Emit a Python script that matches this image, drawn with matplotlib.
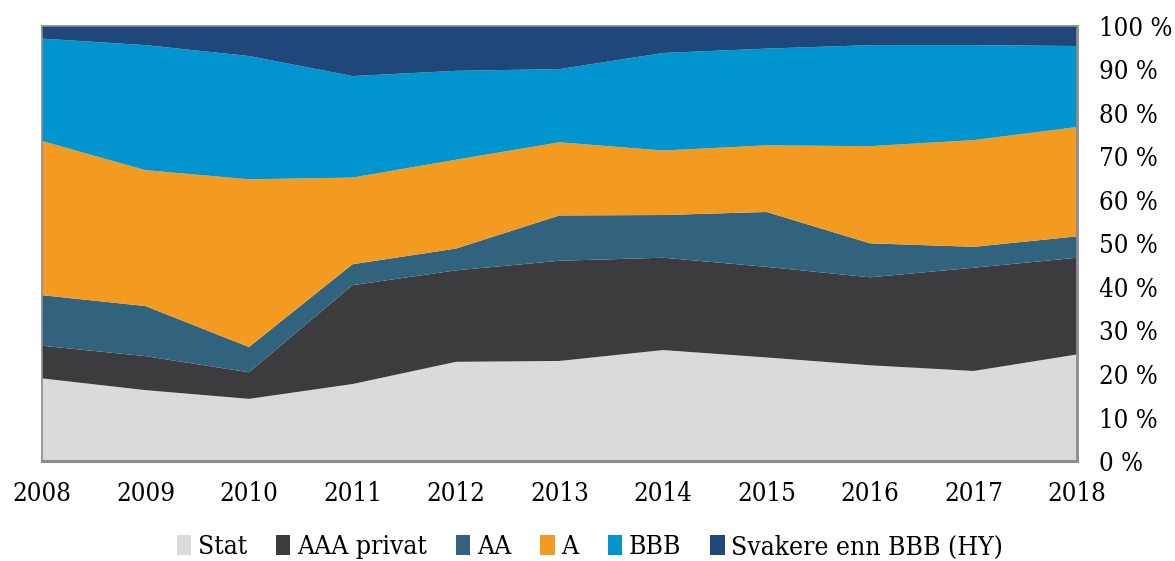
import numpy as np
import matplotlib.pyplot as plt
from matplotlib.patches import Patch

plt.rcParams['font.family'] = ['DejaVu Serif']
plt.rcParams['font.stretch'] = 'condensed'

years = [2008, 2009, 2010, 2011, 2012, 2013, 2014, 2015, 2016, 2017, 2018]

# share of portfolio per rating class, in percent
stat = [19.0, 16.3, 14.3, 17.7, 22.8, 23.0, 25.5, 23.8, 22.0, 20.7, 24.5]
aaa_privat = [7.5, 7.8, 6.1, 22.7, 21.0, 23.0, 21.2, 20.8, 20.2, 23.7, 22.2]
aa = [11.6, 11.5, 5.8, 4.8, 5.0, 10.4, 9.8, 12.6, 7.8, 4.8, 4.9]
a = [35.4, 31.2, 38.5, 19.9, 20.4, 16.8, 14.8, 15.3, 22.3, 24.5, 25.1]
bbb = [23.5, 28.7, 28.3, 23.3, 20.4, 16.8, 22.4, 22.2, 23.2, 21.8, 18.6]
hy = [3.0, 4.5, 7.0, 11.6, 10.4, 10.0, 6.3, 5.3, 4.5, 4.5, 4.7]

labels = ['Stat', 'AAA privat', 'AA', 'A', 'BBB', 'Svakere enn BBB (HY)']
colors = ['#d9dadc', '#3c3c3e', '#31637e', '#f39a21', '#0095ce', '#1f477a']

fig = plt.figure(figsize=(11.75, 5.61), dpi=100)
ax = fig.add_axes([0.0357, 0.178, 0.881, 0.7765])

ax.stackplot(years, stat, aaa_privat, aa, a, bbb, hy, colors=colors,
             labels=labels, linewidth=0)

ax.set_xlim(years[0], years[-1])
ax.set_ylim(0, 100)
ax.set_xticks(years)
ax.set_xticklabels([str(y) for y in years])
ax.set_yticks(np.arange(0, 101, 10))
ax.set_yticklabels([f'{v} %' for v in range(0, 101, 10)])
ax.yaxis.tick_right()
ax.tick_params(axis='both', length=0, labelsize=18.5, colors='black')
ax.tick_params(axis='x', pad=14)
ax.tick_params(axis='y', pad=16)

for side, sp in ax.spines.items():
    sp.set_color('#8c8c8c')
    sp.set_linewidth(1.2)
ax.spines['bottom'].set_linewidth(2.2)
ax.spines['right'].set_linewidth(2.0)

handles = [Patch(facecolor=c, label=l) for c, l in zip(colors, labels)]
fig.legend(handles=handles, loc='center', bbox_to_anchor=(0.502, 0.025),
           ncol=6, frameon=False, fontsize=19, handlelength=0.55,
           handleheight=0.8, handletextpad=0.25, columnspacing=1.1)

fig.savefig('out.png', dpi=100)
